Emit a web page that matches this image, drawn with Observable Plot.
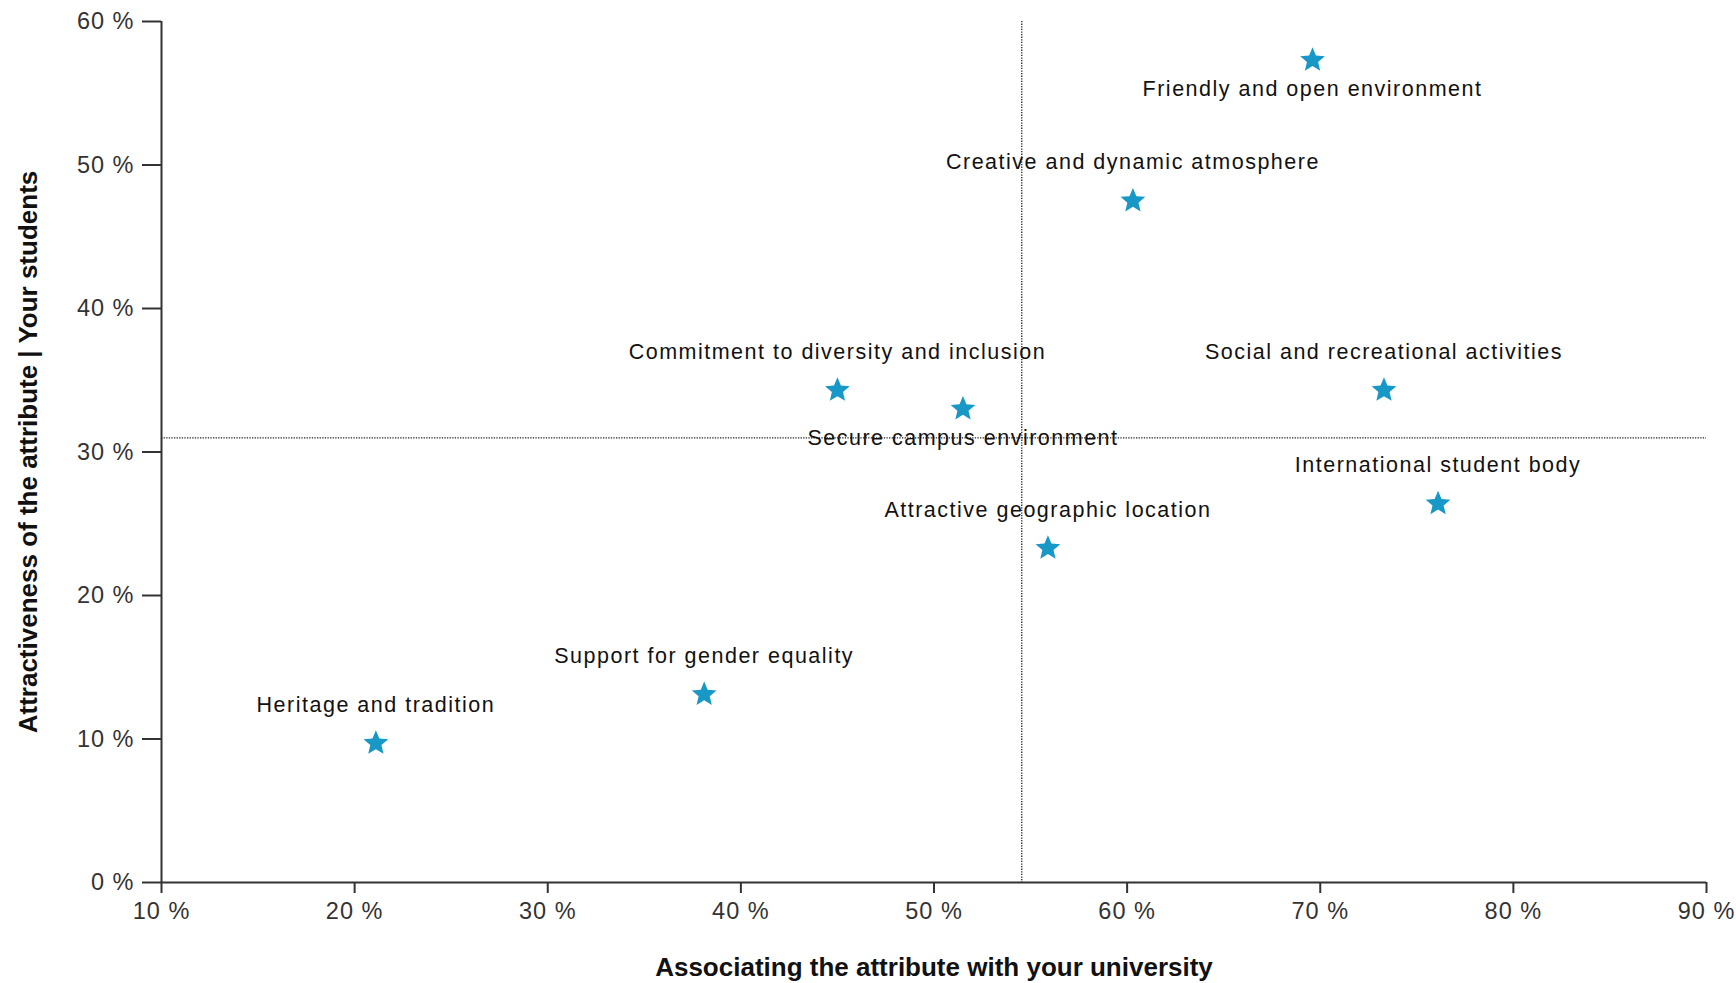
<!DOCTYPE html>
<html><head><meta charset="utf-8">
<script src="https://cdn.jsdelivr.net/npm/d3@7"></script>
<script src="https://cdn.jsdelivr.net/npm/@observablehq/plot@0.6"></script>
<style>
html,body{margin:0;padding:0;background:#fff;}
</style></head><body>
<div id="chart"></div>
<script>
const attributes = [
  "Friendly and open environment",
  "Creative and dynamic atmosphere",
  "Commitment to diversity and inclusion",
  "Secure campus environment",
  "Social and recreational activities",
  "International student body",
  "Attractive geographic location",
  "Support for gender equality",
  "Heritage and tradition"
];
const association = [69.6, 60.3, 45.0, 51.5, 73.3, 76.1, 55.9, 38.1, 21.1];
const attractiveness = [57.3, 47.5, 34.3, 33.0, 34.3, 26.4, 23.3, 13.1, 9.7];
const labelsBelow = ["Friendly and open environment", "Secure campus environment"];
const xTicks = [10, 20, 30, 40, 50, 60, 70, 80, 90];
const yTicks = [0, 10, 20, 30, 40, 50, 60];
const xTitle = "Associating the attribute with your university";
const yTitle = "Attractiveness of the attribute | Your students";

const data = attributes.map((name, i) => ({name, x: association[i], y: attractiveness[i]}));
const meanX = d3.mean(association);
const meanY = d3.mean(attractiveness);
const pct = d => `${d} %`;
const font = "'Liberation Sans', Arial, sans-serif";

// a slightly fuller five-pointed star; r of the dot = outer radius
const fatStar = {
  draw(context, size) {
    const R = Math.sqrt(size / Math.PI);
    const r = R * 0.45;
    for (let i = 0; i < 10; ++i) {
      const a = -Math.PI / 2 + i * Math.PI / 5;
      const rad = i % 2 ? r : R;
      const px = rad * Math.cos(a), py = rad * Math.sin(a);
      if (i === 0) context.moveTo(px, py); else context.lineTo(px, py);
    }
    context.closePath();
  }
};

const plot = Plot.plot({
  width: 1736,
  height: 983,
  marginLeft: 161,
  marginRight: 30,
  marginTop: 21,
  marginBottom: 101,
  x: {domain: [10, 90]},
  y: {domain: [0, 60]},
  style: {fontFamily: font, background: "#fff", overflow: "visible"},
  marks: [
    Plot.ruleX([meanX], {stroke: "#222", strokeWidth: 1.3, strokeDasharray: "1.3,1.3"}),
    Plot.ruleY([meanY], {stroke: "#222", strokeWidth: 1.3, strokeDasharray: "1.3,1.3"}),
    Plot.axisY({ticks: yTicks, tickFormat: pct, tickSize: 19, tickPadding: 8, label: null,
      fontSize: 23.5, color: "#333", strokeWidth: 2}),
    Plot.axisX({ticks: xTicks, tickFormat: pct, tickSize: 11, tickPadding: 9, label: null,
      fontSize: 23.5, color: "#333", strokeWidth: 2}),
    Plot.ruleX([10], {y1: 0, y2: 60, stroke: "#333", strokeWidth: 2}),
    Plot.ruleY([0], {x1: 10, x2: 90, stroke: "#333", strokeWidth: 2}),
    Plot.dot(data, {x: "x", y: "y", symbol: fatStar, r: 13, fill: "#1798c6", stroke: "none"}),
    Plot.text(data.filter(d => !labelsBelow.includes(d.name)), {x: "x", y: "y", text: "name",
      dy: -31.5, lineAnchor: "bottom", fontSize: 21.5, fill: "#111"}),
    Plot.text(data.filter(d => labelsBelow.includes(d.name)), {x: "x", y: "y", text: "name",
      dy: 36, lineAnchor: "bottom", fontSize: 21.5, fill: "#111"}),
    Plot.text([xTitle], {frameAnchor: "bottom", dy: 85, lineAnchor: "middle", textAnchor: "middle",
      fontSize: 26, fontWeight: "bold", fill: "#111"}),
    Plot.text([yTitle], {frameAnchor: "left", dx: -133, rotate: -90, lineAnchor: "middle", textAnchor: "middle",
      fontSize: 26, fontWeight: "bold", fill: "#111"})
  ]
});
d3.select(plot).selectAll("text").each(function() {
  const t = this.textContent;
  if (attributes.includes(t)) this.style.letterSpacing = "1.5px";
  else if (/ %$/.test(t)) this.style.letterSpacing = "1px";
});
document.getElementById("chart").appendChild(plot);
</script>
</body></html>
